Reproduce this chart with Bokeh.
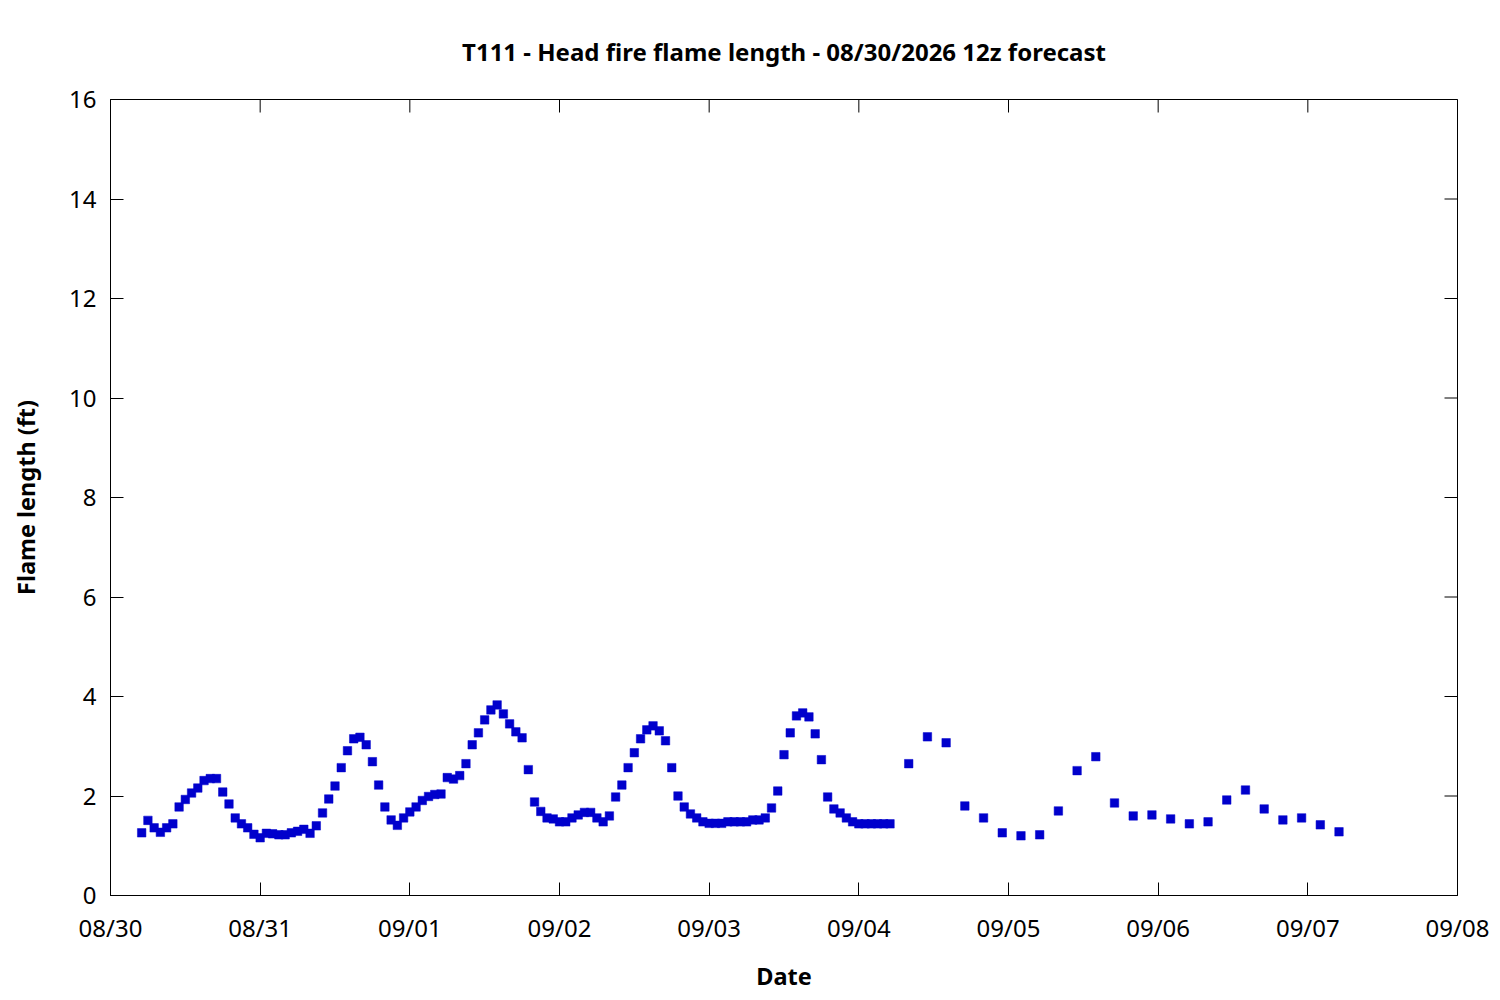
import math
import pandas as pd
from bokeh.plotting import figure
from bokeh.models import ColumnDataSource, Range1d, FixedTicker, DatetimeTickFormatter
from bokeh.embed import file_html
from bokeh.resources import INLINE

# ---------------- data ----------------
title_text = "T111 - Head fire flame length - 08/30/2026 12z forecast"
x_label = "Date"
y_label = "Flame length (ft)"

hourly_start = "2026-08-30 05:00"
hourly_values = [
    1.26, 1.51, 1.36, 1.27, 1.36, 1.44, 1.78, 1.93, 2.06, 2.16, 2.31, 2.35, 2.35, 2.08, 1.84,
    1.56, 1.44, 1.36, 1.23, 1.16, 1.25, 1.24, 1.22, 1.22, 1.26, 1.29, 1.33, 1.25, 1.40, 1.66,
    1.94, 2.20, 2.57, 2.91, 3.15, 3.18, 3.03, 2.69, 2.22, 1.78, 1.52, 1.41, 1.56, 1.68, 1.78,
    1.91, 1.99, 2.03, 2.04, 2.37, 2.34, 2.41, 2.65, 3.03, 3.27, 3.53, 3.73, 3.83, 3.65, 3.45,
    3.29, 3.17, 2.53, 1.88, 1.69, 1.56, 1.54, 1.48, 1.48, 1.56, 1.62, 1.67, 1.67, 1.56, 1.48,
    1.60, 1.98, 2.22, 2.57, 2.87, 3.15, 3.33, 3.41, 3.31, 3.11, 2.57, 2.00, 1.78, 1.64, 1.56,
    1.48, 1.45, 1.45, 1.45, 1.48, 1.48, 1.48, 1.48, 1.52, 1.52, 1.56, 1.76, 2.10, 2.83, 3.27,
    3.61, 3.67, 3.59, 3.25, 2.73, 1.98, 1.74, 1.66, 1.56, 1.48, 1.44, 1.44, 1.44, 1.44, 1.44,
    1.44,
]

three_hourly_start = "2026-09-04 08:00"
three_hourly_values = [
    2.65, 3.19, 3.07, 1.80, 1.56, 1.26, 1.20, 1.22, 1.70, 2.51, 2.79, 1.86,
    1.60, 1.62, 1.54, 1.44, 1.48, 1.92, 2.12, 1.74, 1.52, 1.56, 1.42, 1.28,
]

x_ticks = ["2026-08-30", "2026-08-31", "2026-09-01", "2026-09-02", "2026-09-03",
           "2026-09-04", "2026-09-05", "2026-09-06", "2026-09-07", "2026-09-08"]
y_ticks = [0, 2, 4, 6, 8, 10, 12, 14, 16]

# ---------------- build ----------------
t1 = pd.date_range(hourly_start, periods=len(hourly_values), freq="1h")
t2 = pd.date_range(three_hourly_start, periods=len(three_hourly_values), freq="3h")
src = ColumnDataSource(dict(t=list(t1) + list(t2), v=hourly_values + three_hourly_values))

FONT = "Noto Sans"
TICK_FS = "24px"
LABEL_FS = "23.5px"

tick_dates = [pd.Timestamp(d) for d in x_ticks]
tick_ms = [d.value // 10**6 for d in tick_dates]

p = figure(width=1492, height=996, output_backend="svg", toolbar_location=None,
           x_axis_type="datetime",
           x_range=Range1d(tick_dates[0], tick_dates[-1]),
           y_range=Range1d(y_ticks[0], y_ticks[-1]),
           min_border_left=110, min_border_right=35, min_border_top=99, min_border_bottom=101)

p.title.text = title_text
p.title.align = "center"
p.title.vertical_align = "middle"
p.title.text_font = FONT
p.title.text_font_size = "24px"
p.title.text_font_style = "bold"
p.title.text_color = "black"
p.title.standoff = 62

p.xgrid.visible = False
p.ygrid.visible = False
p.outline_line_color = "black"
p.outline_line_width = 1
p.background_fill_color = "white"
p.border_fill_color = "white"

for ax in (p.xaxis[0], p.yaxis[0]):
    ax.major_tick_in = 13
    ax.major_tick_out = 0
    ax.minor_tick_line_color = None
    ax.axis_line_color = "black"
    ax.major_tick_line_color = "black"
    ax.major_label_text_font = FONT
    ax.major_label_text_font_size = TICK_FS
    ax.major_label_text_color = "black"
    ax.axis_label_text_font = FONT
    ax.axis_label_text_font_size = LABEL_FS
    ax.axis_label_text_font_style = "bold"
    ax.axis_label_text_color = "black"

xa = p.xaxis[0]
xa.ticker = FixedTicker(ticks=tick_ms)
xa.formatter = DatetimeTickFormatter(days="%m/%d", months="%m/%d", hours="%m/%d")
xa.major_label_standoff = 15
xa.axis_label = x_label
xa.axis_label_standoff = 13

ya = p.yaxis[0]
ya.ticker = FixedTicker(ticks=y_ticks)
ya.major_label_standoff = 14
ya.axis_label = y_label
ya.axis_label_standoff = 24

# mirrored inward ticks on the top and right frame edges (half of each dash is clipped by the frame)
p.scatter(x=tick_dates, y=[y_ticks[-1]] * len(tick_dates), marker="dash", angle=math.pi / 2,
          size=26, line_color="black", line_width=1)
p.scatter(x=[tick_dates[-1]] * len(y_ticks), y=y_ticks, marker="dash",
          size=26, line_color="black", line_width=1)

p.scatter("t", "v", source=src, marker="square", size=8.5,
          fill_color="#0000CC", line_color="#0000CC", line_width=0.5)

open("out.html", "w").write(file_html(p, INLINE))
